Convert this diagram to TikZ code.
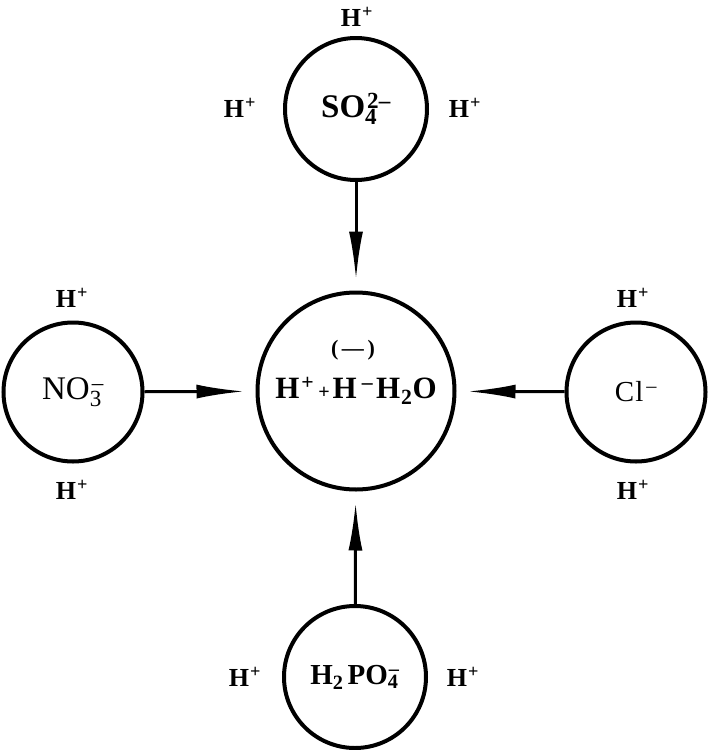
\documentclass[tikz,border=0pt]{standalone}
\usepackage{fontspec}
\setmainfont{Liberation Serif}
\usetikzlibrary{arrows.meta}
\newcommand{\hp}{H\textsuperscript{\kern1pt+}}
\begin{document}
\begin{tikzpicture}[x=1pt,y=-1pt,
  ion/.style={circle,draw,line width=4pt,minimum size=#1,inner sep=0pt},
  lab/.style={font=\fontsize{26}{28}\selectfont\bfseries},
  ionlab/.style={font=\fontsize{33}{36}\selectfont\bfseries},
  arr/.style={line width=3pt,shorten >=11pt,-{Latex[length=48pt,width=14pt]}}]
\useasboundingbox[fill=white] (0,0) rectangle (708,750);
% circles
\node[ion=197pt,font=\fontsize{31}{34}\selectfont\bfseries] (c) at (356,391)
  {H\textsuperscript{\kern2pt+}\hspace{4pt}{\fontsize{20}{22}\selectfont+}\hspace{3pt}H\textsuperscript{\kern5pt--}\hspace{3pt}H\textsubscript{\kern1pt2}O};
\node[font=\fontsize{22}{24}\selectfont\bfseries] (cm) at (353,350) {(\,---\,)};
\node[ion=142pt,ionlab] (so4) at (356,109)
  {SO\rlap{\textsubscript{4}}\textsuperscript{\kern2pt2--}};
\node[ion=139pt,font=\fontsize{33}{36}\selectfont] (no3) at (73,392)
  {NO\rlap{\textsubscript{3}}\textsuperscript{\kern2pt--}};
\node[ion=139pt,font=\fontsize{29}{30}\selectfont] (cl) at (636,392)
  {C\kern1pt l\textsuperscript{\kern3pt--}};
\node[ion=142pt,font=\fontsize{29}{30}\selectfont\bfseries] (po4) at (355,677)
  {H\textsubscript{2}\hspace{4pt}PO\rlap{\textsubscript{4}}\textsuperscript{\kern1pt--}};
% H labels
\node[lab] (t1) at (357,17) {\hp};
\node[lab] (t2) at (240,108) {\hp};
\node[lab] (t3) at (465,108) {\hp};
\node[lab] (l1) at (72,298) {\hp};
\node[lab] (l2) at (72,490) {\hp};
\node[lab] (r1) at (633,298) {\hp};
\node[lab] (r2) at (633,490) {\hp};
\node[lab] (b1) at (245,677) {\hp};
\node[lab] (b2) at (463,677) {\hp};
% arrows
\draw[arr] (so4) -- (c);
\draw[arr] (no3) -- (c);
\draw[arr] (cl) -- (c);
\draw[arr] (po4) -- (c);
\end{tikzpicture}
\end{document}
